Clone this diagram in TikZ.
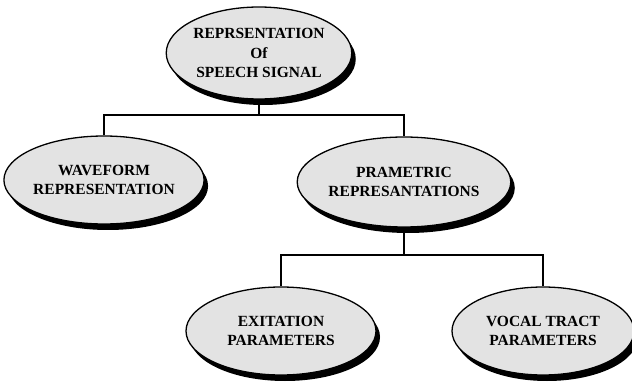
\documentclass[tikz,border=0pt]{standalone}
\usepackage{fontspec}
\setmainfont{Liberation Serif}
\usetikzlibrary{shapes.geometric,shadows}
\begin{document}
\begin{tikzpicture}[x=1pt,y=1pt,
  disc/.style={ellipse, draw=black, line width=1.3pt, fill=gray!22,
    inner sep=0pt, align=center, font=\bfseries\fontsize{15.5}{19.5}\selectfont,
    drop shadow={shadow xshift=4pt, shadow yshift=-6pt, fill=black, opacity=1}},
  link/.style={line width=1.2pt, draw=black}]
\useasboundingbox (0,0) rectangle (632,383);
\node[disc, minimum width=180pt, minimum height=92pt] (top) at (259,330) {REPRSENTATION\\Of\\SPEECH SIGNAL};
\node[disc, minimum width=186pt, minimum height=88pt] (wave) at (104,203) {WAVEFORM\\REPRESENTATION};
\node[disc, minimum width=182pt, minimum height=90pt] (param) at (404,201) {PRAMETRIC\\REPRESANTATIONS};
\node[disc, minimum width=190pt, minimum height=88pt] (exit) at (281,52) {EXITATION\\PARAMETERS};
\node[disc, minimum width=182pt, minimum height=88pt] (vocal) at (543,52) {VOCAL TRACT\\PARAMETERS};
\coordinate (j1) at (259,268);
\coordinate (j2) at (404,128);
\draw[link] (top.south) -- (j1);
\draw[link] (wave.north) |- (j1) -| (param.north);
\draw[link] (param.south) -- (j2);
\draw[link] (exit.north) |- (j2) -| (vocal.north);
\end{tikzpicture}
\end{document}
